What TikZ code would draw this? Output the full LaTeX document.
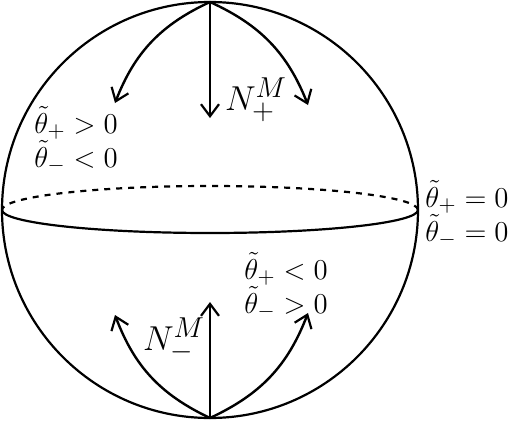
\documentclass[tikz,border=0pt]{standalone}
\usepackage{amsmath}
\usetikzlibrary{arrows.meta, positioning, calc}

\begin{document}
\begin{tikzpicture}[
  x=0.5pt, y=0.5pt,
  sphere/.style={line width=1.1pt},
  arr/.style={-{Straight Barb[length=6pt, width=9pt, line width=1.1pt]}, line width=1.2pt},
  lbl/.style={font=\fontsize{15}{17}\selectfont, inner sep=0pt, align=left},
  cond/.style={lbl, anchor=west},
  nlbl/.style={inner sep=0pt, font=\fontsize{19}{21}\selectfont}
]
  \useasboundingbox (0,0) rectangle (516,420);

  % sphere and equator
  \draw[sphere] (210,210) circle (208);
  \draw[sphere, dashed] (418,210) arc[start angle=0, end angle=180, x radius=208, y radius=24];
  \draw[sphere] (2,210) arc[start angle=180, end angle=360, x radius=208, y radius=23];

  \coordinate (north) at (210,418);
  \coordinate (south) at (210,2);
  \coordinate (nmid) at (210,302);
  \coordinate (nleft) at (115,317);
  \coordinate (nright) at (308,315);
  \coordinate (smid) at (210,118);
  \coordinate (sleft) at (115,105);
  \coordinate (sright) at (308,107);

  \draw[arr] (north) -- (nmid);
  \draw[arr] (north) to[bend right=22] (nleft);
  \draw[arr] (north) to[bend left=22] (nright);
  \draw[arr] (south) -- (smid);
  \draw[arr] (south) to[bend left=22] (sleft);
  \draw[arr] (south) to[bend right=22] (sright);

  \node[nlbl] (nplus) at (256,320) {$N_+^M$};
  \node[nlbl] (nminus) at (174,80) {$N_-^M$};
  \node[cond] (upper) at (34,280) {$\tilde\theta_+ > 0$\\$\tilde\theta_- < 0$};
  \node[cond] (equator) at (425,206) {$\tilde\theta_+ = 0$\\$\tilde\theta_- = 0$};
  \node[cond] (lower) at (244,134) {$\tilde\theta_+ < 0$\\$\tilde\theta_- > 0$};
\end{tikzpicture}
\end{document}
